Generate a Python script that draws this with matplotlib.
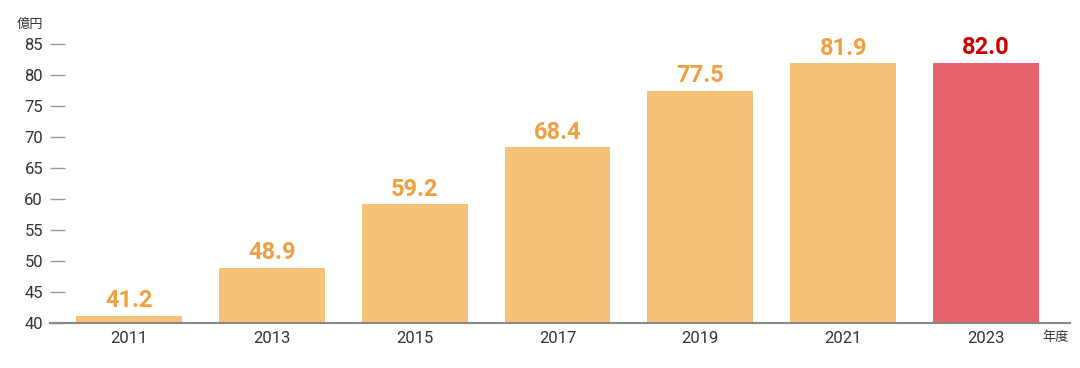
import matplotlib.pyplot as plt

# Daten
years = ["2011", "2013", "2015", "2017", "2019", "2021", "2023"]
values = [41.2, 48.9, 59.2, 68.4, 77.5, 81.9, 82.0]
y_ticks = [40, 45, 50, 55, 60, 65, 70, 75, 80, 85]

bar_colors = ["#F6C27A"] * 6 + ["#E8626A"]
label_colors = ["#F0A040"] * 6 + ["#CC0000"]

plt.rcParams['font.family'] = ['Roboto', 'Noto Sans CJK JP', 'DejaVu Sans']

fig = plt.figure(figsize=(10.8, 3.68), dpi=100)
ax = fig.add_axes([50 / 1080, 1 - 323 / 368, 1020 / 1080, 279 / 368])

x = range(len(years))
ax.bar(x, [v - 40 for v in values], bottom=40, width=0.74, color=bar_colors, zorder=2)

# Wertebeschriftung
for i, v in enumerate(values):
    ax.text(i, v + 0.55, f"{v:.1f}", ha="center", va="bottom",
            fontsize=17, fontweight="bold", color=label_colors[i])

ax.set_xlim(-0.553, 6.588)
ax.set_ylim(40, 85)
ax.set_yticks(y_ticks)
ax.set_xticks(list(x))
ax.set_xticklabels(years)

for s in ["top", "right", "left"]:
    ax.spines[s].set_visible(False)
ax.spines["bottom"].set_color("#888888")
ax.spines["bottom"].set_linewidth(1.5)
ax.spines["bottom"].set_zorder(3)

ax.tick_params(axis="y", direction="in", length=11, width=1, color="#999999",
               labelsize=12, labelcolor="#333333", pad=5)
ax.tick_params(axis="x", length=0, labelsize=12, labelcolor="#333333", pad=6)

fig.text(17 / 1080, 1 - 24 / 368, "億円", fontsize=9.5, color="#333333", va="center", ha="left")
fig.text(1042 / 1080, 1 - 338 / 368, "年度", fontsize=9.5, color="#333333", va="center", ha="left")

fig.savefig("out.png", dpi=100, facecolor="white")
